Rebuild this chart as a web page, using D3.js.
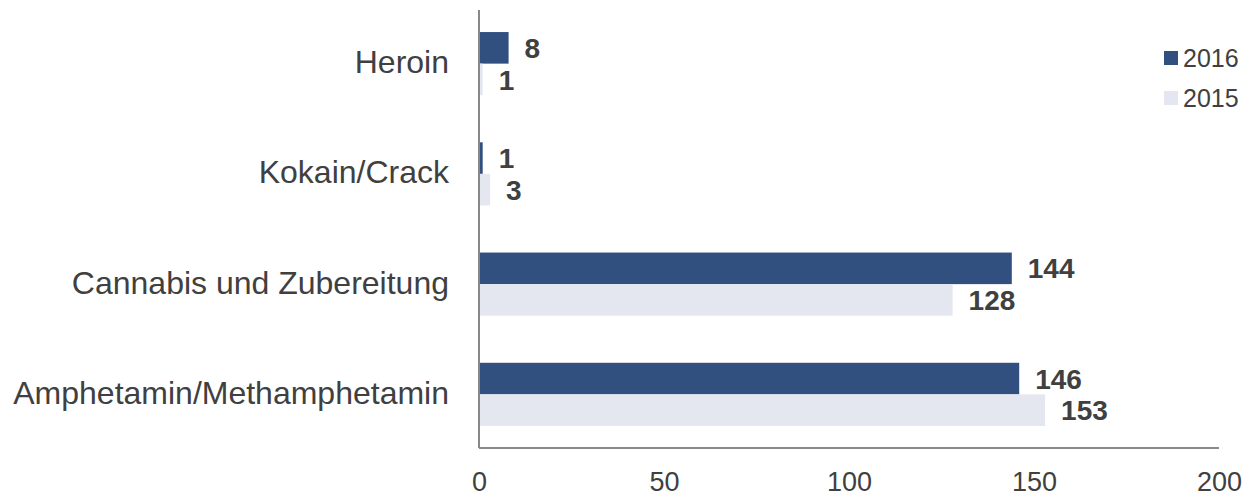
<!DOCTYPE html>
<html>
<head>
<meta charset="utf-8">
<script src="https://cdn.jsdelivr.net/npm/d3@7"></script>
<style>
  body { margin: 0; background: #fff; }
  text { font-family: "Liberation Sans", Arial, sans-serif; fill: #404040; }
</style>
</head>
<body>
<svg id="canvas" width="1247" height="497"></svg>
<script>
let categories = ["Heroin", "Kokain/Crack", "Cannabis und Zubereitung", "Amphetamin/Methamphetamin"];
let years = ["2016", "2015"];
let values2016 = [8, 1, 144, 146];
let values2015 = [1, 3, 128, 153];
let tickValues = [0, 50, 100, 150, 200];

let colors = { "2016": "#31507f", "2015": "#e4e7f0" };

let canvas = d3.select("#canvas");

let x = d3.scaleLinear().domain([0, 200]).range([479, 1219]);
let y = d3.scaleBand()
  .domain(categories)
  .range([10, 448])
  .paddingInner(0.427)
  .paddingOuter(0.2);
let inner = d3.scaleBand().domain(years).range([0, y.bandwidth()]);

let rows = categories.map((c, i) => ({ cat: c, "2016": values2016[i], "2015": values2015[i] }));

// bars
let groups = canvas.selectAll("g.grp")
  .data(rows)
  .enter()
  .append("g")
  .attr("class", "grp")
  .attr("transform", (d) => "translate(0," + y(d.cat) + ")");

groups.selectAll("rect")
  .data((d) => years.map((yr) => ({ yr: yr, v: d[yr] })))
  .enter()
  .append("rect")
  .attr("x", x(0))
  .attr("y", (d) => inner(d.yr))
  .attr("width", (d) => x(d.v) - x(0))
  .attr("height", inner.bandwidth())
  .attr("fill", (d) => colors[d.yr]);

groups.selectAll("text.val")
  .data((d) => years.map((yr) => ({ yr: yr, v: d[yr] })))
  .enter()
  .append("text")
  .attr("class", "val")
  .attr("x", (d) => x(d.v) + 16)
  .attr("y", (d) => inner(d.yr) + inner.bandwidth() / 2)
  .attr("dy", "0.36em")
  .style("font-size", "28px")
  .style("font-weight", "bold")
  .text((d) => d.v);

// category labels
canvas.selectAll("text.cat")
  .data(categories)
  .enter()
  .append("text")
  .attr("class", "cat")
  .attr("x", 449)
  .attr("y", (d) => y(d) + y.bandwidth() / 2)
  .attr("dy", "0.3em")
  .attr("text-anchor", "end")
  .style("font-size", "32px")
  .text((d) => d);

// axes
canvas.append("line")
  .attr("x1", x(0)).attr("x2", x(0))
  .attr("y1", 10).attr("y2", 448)
  .attr("stroke", "#898989").attr("stroke-width", 2);
canvas.append("line")
  .attr("x1", x(0)).attr("x2", x(200))
  .attr("y1", 448).attr("y2", 448)
  .attr("stroke", "#898989").attr("stroke-width", 2);

let xAxis = d3.axisBottom(x).tickValues(tickValues).tickSize(0).tickPadding(0);
let ax = canvas.append("g").attr("transform", "translate(0,491)").call(xAxis);
ax.select(".domain").remove();
ax.selectAll(".tick text")
  .attr("y", 0)
  .attr("dy", "0em")
  .style("font-size", "27px")
  .style("font-family", "\"Liberation Sans\", Arial, sans-serif")
  .style("fill", "#404040");

// legend
let legend = canvas.append("g").attr("transform", "translate(1164,51)");
years.forEach((yr, i) => {
  legend.append("rect")
    .attr("x", 0).attr("y", i * 40)
    .attr("width", 14).attr("height", 14)
    .attr("fill", colors[yr]);
  legend.append("text")
    .attr("x", 19).attr("y", i * 40 + 7)
    .attr("dy", "0.36em")
    .style("font-size", "25px")
    .text(yr);
});
</script>
</body>
</html>
